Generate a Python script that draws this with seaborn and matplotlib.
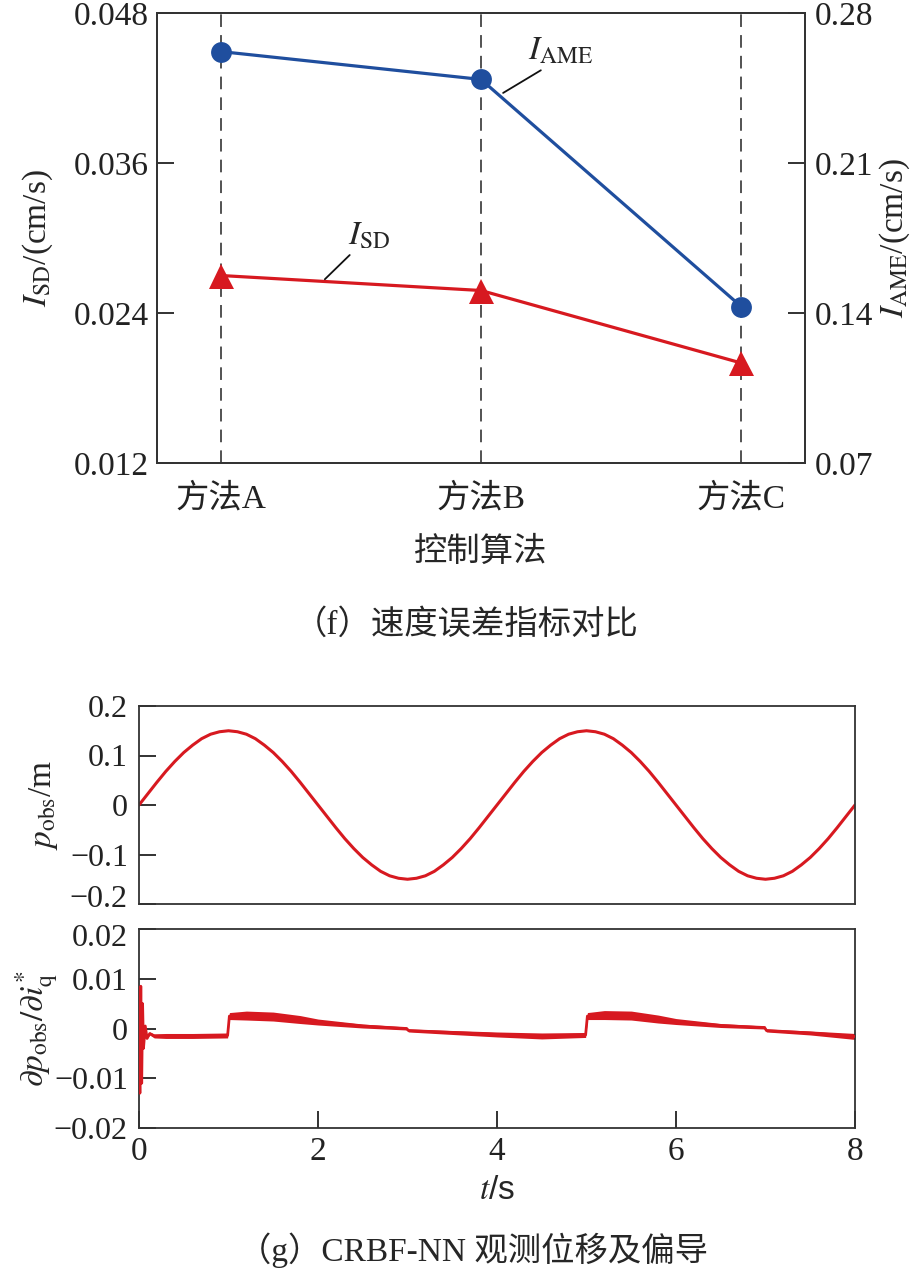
import numpy as np
import pandas as pd
import matplotlib
matplotlib.use("Agg")
import matplotlib.pyplot as plt
import matplotlib.transforms as mtransforms
import seaborn as sns

# ---------------- data ----------------
methods = ["方法A", "方法B", "方法C"]
isd_values = [0.0270, 0.0258, 0.0200]      # left axis, cm/s
iame_values = [0.262, 0.249, 0.143]        # right axis, cm/s

isd_ticks = [0.012, 0.024, 0.036, 0.048]
isd_ticklabels = ["0.012", "0.024", "0.036", "0.048"]
iame_ticks = [0.07, 0.14, 0.21, 0.28]
iame_ticklabels = ["0.07", "0.14", "0.21", "0.28"]

# observed displacement p_obs (m), sampled every 0.1 s from 0 to 8 s
t_p = np.linspace(0, 8, 81)
p_obs = [0.000, 0.023, 0.046, 0.068, 0.088, 0.106, 0.121, 0.134, 0.143, 0.148,
         0.150, 0.148, 0.143, 0.134, 0.121, 0.106, 0.088, 0.068, 0.046, 0.023,
         0.000, -0.023, -0.046, -0.068, -0.088, -0.106, -0.121, -0.134, -0.143, -0.148,
         -0.150, -0.148, -0.143, -0.134, -0.121, -0.106, -0.088, -0.068, -0.046, -0.023,
         0.000, 0.023, 0.046, 0.068, 0.088, 0.106, 0.121, 0.134, 0.143, 0.148,
         0.150, 0.148, 0.143, 0.134, 0.121, 0.106, 0.088, 0.068, 0.046, 0.023,
         0.000, -0.023, -0.046, -0.068, -0.088, -0.106, -0.121, -0.134, -0.143, -0.148,
         -0.150, -0.148, -0.143, -0.134, -0.121, -0.106, -0.088, -0.068, -0.046, -0.023,
         0.000]
p_ticks = [-0.2, -0.1, 0, 0.1, 0.2]
p_ticklabels = ["\u22120.2", "\u22120.1", "0", "0.1", "0.2"]

# partial derivative dp_obs/di_q* : centre of the noisy band and its half width
t_d = [0.00, 0.01, 0.02, 0.03, 0.04, 0.05, 0.07, 0.09, 0.12, 0.17, 0.30, 0.60, 0.99,
       1.01, 1.20, 1.50, 1.80, 2.00, 2.50, 2.99, 3.01, 3.50, 4.00, 4.50, 4.99,
       5.01, 5.20, 5.50, 5.80, 6.00, 6.50, 6.99, 7.01, 7.50, 8.00]
d_mid = [0.0000, -0.0130, 0.0085, -0.0110, 0.0050, -0.0040, 0.0005, -0.0020, -0.0010,
         -0.0015, -0.0015, -0.0015, -0.0014,
         0.0025, 0.0026, 0.0024, 0.0018, 0.0013, 0.0005, 0.0000, -0.0004, -0.0008,
         -0.0012, -0.0015, -0.0013,
         0.0025, 0.0027, 0.0026, 0.0019, 0.0014, 0.0006, 0.0002, -0.0004, -0.0009, -0.0016]
d_half = [0, 0, 0, 0, 0, 0, 0, 0, 0.0003, 0.0004, 0.0005, 0.0005, 0.0005,
          0.0007, 0.0009, 0.0009, 0.0008, 0.0006, 0.0004, 0.0003, 0.0003, 0.0004,
          0.0005, 0.0006, 0.0005,
          0.0007, 0.0009, 0.0009, 0.0008, 0.0006, 0.0004, 0.0003, 0.0003, 0.0004, 0.0006]
d_ticks = [-0.02, -0.01, 0, 0.01, 0.02]
d_ticklabels = ["\u22120.02", "\u22120.01", "0", "0.01", "0.02"]
t_ticks = [0, 2, 4, 6, 8]
t_ticklabels = ["0", "2", "4", "6", "8"]

# ---------------- style ----------------
sns.set_theme(style="white")
plt.rcParams["font.family"] = ["Liberation Serif", "Noto Sans CJK SC", "DejaVu Sans"]
plt.rcParams["mathtext.fontset"] = "stix"
plt.rcParams["axes.edgecolor"] = "#333333"
plt.rcParams["axes.linewidth"] = 1.3
plt.rcParams["axes.unicode_minus"] = True

RED = "#d71920"
BLUE = "#1f4e9e"
FS = 24
FS_B = 23
W, H = 923, 1279


def frac(left, top, right, bottom):
    return [left / W, 1 - bottom / H, (right - left) / W, (bottom - top) / H]


fig = plt.figure(figsize=(W / 100, H / 100), dpi=100)

# ================= (f) =================
ax = fig.add_axes(frac(157, 13, 805, 463))
df = pd.DataFrame({"method": methods, "isd": isd_values, "iame": iame_values})

sns.lineplot(data=df, x="method", y="isd", ax=ax, color=RED, lw=2.3, sort=False,
             marker="^", markersize=18, markeredgewidth=0, zorder=3)
for m in methods:
    ax.axvline(m, color="#444444", lw=1.3, dashes=(7, 4.5), zorder=1)

ax2 = ax.twinx()
sns.lineplot(data=df, x="method", y="iame", ax=ax2, color=BLUE, lw=2.3, sort=False,
             marker="o", markersize=15, markeredgewidth=0, zorder=3)

ax.set_xlim(-0.245, 2.245)
ax.set_ylim(isd_ticks[0], isd_ticks[-1])
ax2.set_ylim(iame_ticks[0], iame_ticks[-1])
ax.set_yticks(isd_ticks)
ax.set_yticklabels(isd_ticklabels)
ax2.set_yticks(iame_ticks)
ax2.set_yticklabels(iame_ticklabels)

ax.tick_params(axis="y", which="both", direction="in", length=12, width=1.3,
               labelsize=FS, pad=6, left=True, right=False, colors="#222222")
ax.tick_params(axis="x", length=0, labelsize=FS, pad=15, colors="#222222")
ax2.tick_params(axis="y", which="both", direction="in", length=12, width=1.3,
                labelsize=FS, pad=7, right=True, left=False, colors="#222222")
for a in (ax, ax2):
    for s in a.spines.values():
        s.set_visible(True)
        s.set_color("#333333")
        s.set_linewidth(1.3)

ax.set_xlabel("控制算法", fontsize=FS)
ax.xaxis.set_label_coords(0.5, -0.163)
ax.set_ylabel(r"$I_{\mathrm{SD}}$/(cm/s)", fontsize=FS)
ax.yaxis.set_label_coords(-0.157, 0.5)
ax2.set_ylabel(r"$I_{\mathrm{AME}}$/(cm/s)", fontsize=FS)
ax2.yaxis.set_label_coords(1.112, 0.5)

ax.annotate(r"$I_{\mathrm{SD}}$", xy=(0.40, 0.0267), xytext=(0.489, 0.0289),
            fontsize=FS, ha="left", va="bottom",
            arrowprops=dict(arrowstyle="-", color="#111111", lw=1.3,
                            shrinkA=0, shrinkB=0, relpos=(0.12, 0.0)))
ax2.annotate(r"$I_{\mathrm{AME}}$", xy=(1.085, 0.2427), xytext=(1.181, 0.2548),
             fontsize=FS, ha="left", va="bottom",
             arrowprops=dict(arrowstyle="-", color="#111111", lw=1.3,
                             shrinkA=0, shrinkB=0, relpos=(0.28, 0.0)))

fig.text(0.505, 1 - 625 / H, "（f）速度误差指标对比", fontsize=FS,
         ha="center", va="center")

# ================= (g) =================
ax3 = fig.add_axes(frac(139, 706, 855, 904))
ax4 = fig.add_axes(frac(139, 929, 855, 1128), sharex=ax3)

sns.lineplot(x=t_p, y=p_obs, ax=ax3, color=RED, lw=2.2, estimator=None, sort=False)
ax3.set_ylim(-0.2, 0.2)
ax3.set_yticks(p_ticks)
ax3.set_yticklabels(p_ticklabels)

lower = np.array(d_mid) - np.array(d_half)
upper = np.array(d_mid) + np.array(d_half)
ax4.fill_between(t_d, lower, upper, color=RED, lw=0, zorder=2)
sns.lineplot(x=t_d, y=d_mid, ax=ax4, color=RED, lw=2.0, estimator=None, sort=False,
             zorder=3)
ax4.set_ylim(-0.02, 0.02)
ax4.set_yticks(d_ticks)
ax4.set_yticklabels(d_ticklabels)
ax4.set_xlim(0, 8)
ax4.set_xticks(t_ticks)
ax4.set_xticklabels(t_ticklabels)

for a in (ax3, ax4):
    a.tick_params(axis="y", direction="in", length=12, width=1.3, labelsize=FS_B,
                  pad=8, left=True, right=False, colors="#222222")
    for s in a.spines.values():
        s.set_visible(True)
        s.set_color("#333333")
        s.set_linewidth(1.3)
ax3.tick_params(axis="x", length=0, labelbottom=False)
ax4.tick_params(axis="x", direction="in", length=12, width=1.3, labelsize=FS,
                pad=6, bottom=True, top=False, colors="#222222")

# nudge the two labels that meet between the panels apart (as in the reference)
up = mtransforms.ScaledTranslation(0, 6 / 72, fig.dpi_scale_trans)
down = mtransforms.ScaledTranslation(0, -4 / 72, fig.dpi_scale_trans)
lab_low = ax3.yaxis.get_major_ticks()[0].label1
lab_low.set_transform(lab_low.get_transform() + up)
lab_high = ax4.yaxis.get_major_ticks()[-1].label1
lab_high.set_transform(lab_high.get_transform() + down)

ax3.set_xlabel("")
ax3.set_ylabel(r"$p_{\mathrm{obs}}$/m", fontsize=FS)
ax3.yaxis.set_label_coords(-0.11, 0.5)
ax4.set_ylabel(r"$\partial p_{\mathrm{obs}}/\partial i_{\mathrm{q}}^{*}$", fontsize=FS)
ax4.yaxis.set_label_coords(-0.11, 0.5)
ax4.set_xlabel(r"$t$/s", fontsize=FS, family=["Liberation Sans"])
ax4.xaxis.set_label_coords(0.5, -0.235)

fig.text(0.513, 1 - 1250 / H, "（g）CRBF-NN 观测位移及偏导", fontsize=FS,
         ha="center", va="center")

fig.savefig("out.png", dpi=100)
